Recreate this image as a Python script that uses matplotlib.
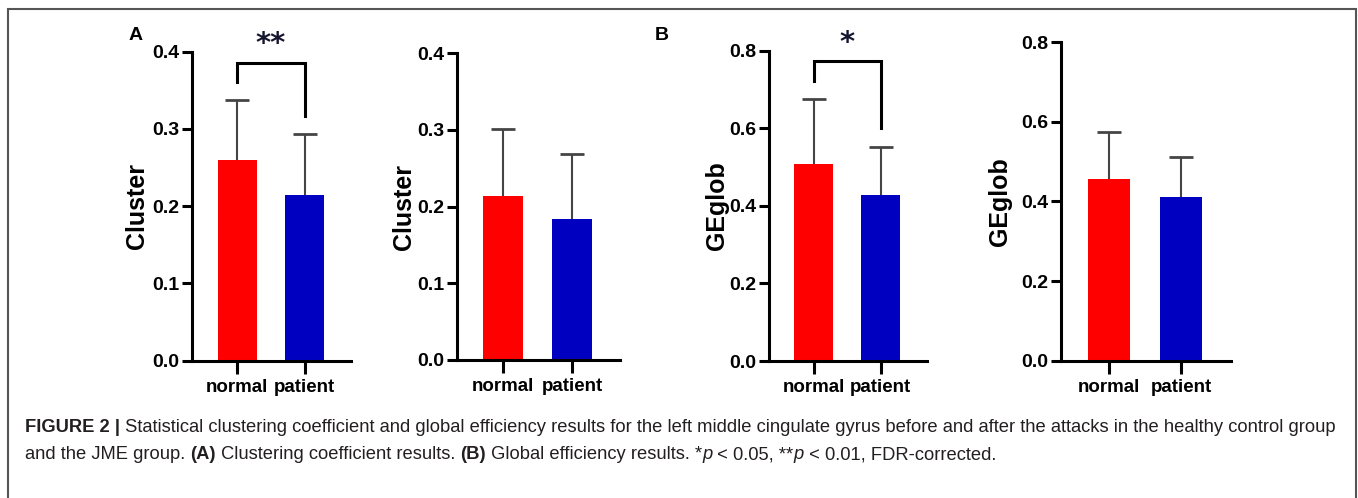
import matplotlib
matplotlib.use("Agg")
import matplotlib.pyplot as plt
from matplotlib.patches import Rectangle

# ---------------- data ----------------
groups = ["normal", "patient"]
cluster_before = [0.260, 0.214]
cluster_before_sd = [0.077, 0.080]
cluster_after = [0.214, 0.184]
cluster_after_sd = [0.087, 0.085]
geglob_before = [0.507, 0.427]
geglob_before_sd = [0.168, 0.124]
geglob_after = [0.456, 0.412]
geglob_after_sd = [0.118, 0.101]
bar_colors = ["#ff0000", "#0000c0"]

W, H = 1358, 498
fig = plt.figure(figsize=(W / 100, H / 100), dpi=100)

SANS = ["Liberation Sans", "DejaVu Sans"]


def px_axes(left, right, top, bottom):
    return fig.add_axes([left / W, 1 - bottom / H, (right - left) / W, (bottom - top) / H])


def panel(box, vals, sds, ymax, yticks, ylabel, label_x, sig=None):
    ax = px_axes(*box)
    x = list(range(len(vals)))
    ax.bar(x, vals, width=0.58, color=bar_colors, zorder=2)
    for xi, v, s in zip(x, vals, sds):
        _, caps, _ = ax.errorbar([xi], [v], yerr=[[0], [s]], fmt="none",
                                 ecolor="#454545", elinewidth=1.5, capsize=8.3,
                                 capthick=2.0, zorder=1)
        caps[0].set_visible(False)
    ax.set_xlim(-0.67, 1.69)
    ax.set_ylim(0, ymax)
    ax.set_yticks(yticks)
    ax.set_yticklabels([f"{t:.1f}" for t in yticks], family=SANS,
                       fontweight="bold", fontsize=14)
    ax.set_xticks(x)
    ax.set_xticklabels(groups, family=SANS, fontweight="bold", fontsize=13.5)
    for side in ("top", "right"):
        ax.spines[side].set_visible(False)
    for side in ("left", "bottom"):
        ax.spines[side].set_linewidth(2.2)
    ax.tick_params(axis="both", width=2.2, length=7, direction="out", pad=2)
    ax.tick_params(axis="x", length=9, pad=4)
    ax.set_ylabel(ylabel, family=SANS, fontweight="bold", fontsize=18)
    # place label centre at a pixel x position, vertically centred on the axis
    l, b, w, h = ax.get_position().bounds
    ax.yaxis.set_label_coords(label_x / W, b + h / 2, transform=fig.transFigure)
    ax.yaxis.label.set_va("center")
    ax.set_facecolor("none")
    if sig is not None:
        stars, ytop, yl, yr = sig
        ax.plot([0, 0, 1, 1], [yl, ytop, ytop, yr], color="black", lw=2.2,
                clip_on=False, solid_joinstyle="miter")
        ax.text(0.5, ytop + 0.06 * ymax, stars, ha="center", va="center",
                fontsize=21, fontweight="bold", color="#15152e", clip_on=False)
    return ax


panel((192, 351, 51.7, 360.7), cluster_before, cluster_before_sd, 0.4,
      [0.0, 0.1, 0.2, 0.3, 0.4], "Cluster", 137, sig=("**", 0.386, 0.361, 0.317))
panel((457, 620, 53.3, 360.0), cluster_after, cluster_after_sd, 0.4,
      [0.0, 0.1, 0.2, 0.3, 0.4], "Cluster", 404)
panel((769, 927, 50.7, 361.0), geglob_before, geglob_before_sd, 0.8,
      [0.0, 0.2, 0.4, 0.6, 0.8], "GEglob", 717, sig=("*", 0.773, 0.723, 0.600))
panel((1061, 1231, 42.3, 360.7), geglob_after, geglob_after_sd, 0.8,
      [0.0, 0.2, 0.4, 0.6, 0.8], "GEglob", 1000)

# panel letters
fig.text(136 / W, 1 - 36 / H, "A", family=SANS, fontweight="bold", fontsize=14,
         ha="center", va="center")
fig.text(662 / W, 1 - 36 / H, "B", family=SANS, fontweight="bold", fontsize=14,
         ha="center", va="center")

# outer frame (open at bottom)
fig.patches.append(Rectangle((8 / W, -0.1), (1355.5 - 8) / W, 1.1 - 9 / H,
                             transform=fig.transFigure, fill=False,
                             edgecolor="#555555", lw=1.5))

# caption with mixed styles
renderer = fig.canvas.get_renderer()


def rich_line(segments, x0, y0, size=13.2):
    x = x0
    for txt, weight, style in segments:
        t = fig.text(x / W, 1 - y0 / H, txt, family=SANS, fontsize=size,
                     fontweight=weight, fontstyle=style, color="#231f20",
                     ha="left", va="baseline")
        bb = t.get_window_extent(renderer)
        x += bb.width
    return x


line1 = [("FIGURE 2 |", "bold", "normal"),
         (" Statistical clustering coefficient and global efficiency results for the left middle cingulate gyrus before and after the attacks in the healthy control group", "normal", "normal")]
line2 = [("and the JME group. ", "normal", "normal"),
         ("(A)", "bold", "normal"),
         (" Clustering coefficient results. ", "normal", "normal"),
         ("(B)", "bold", "normal"),
         (" Global efficiency results. *", "normal", "normal"),
         ("p", "normal", "italic"),
         (" < 0.05, **", "normal", "normal"),
         ("p", "normal", "italic"),
         (" < 0.01, FDR-corrected.", "normal", "normal")]
rich_line(line1, 25, 432)
rich_line(line2, 25, 459)

fig.savefig("out.png", dpi=100)
